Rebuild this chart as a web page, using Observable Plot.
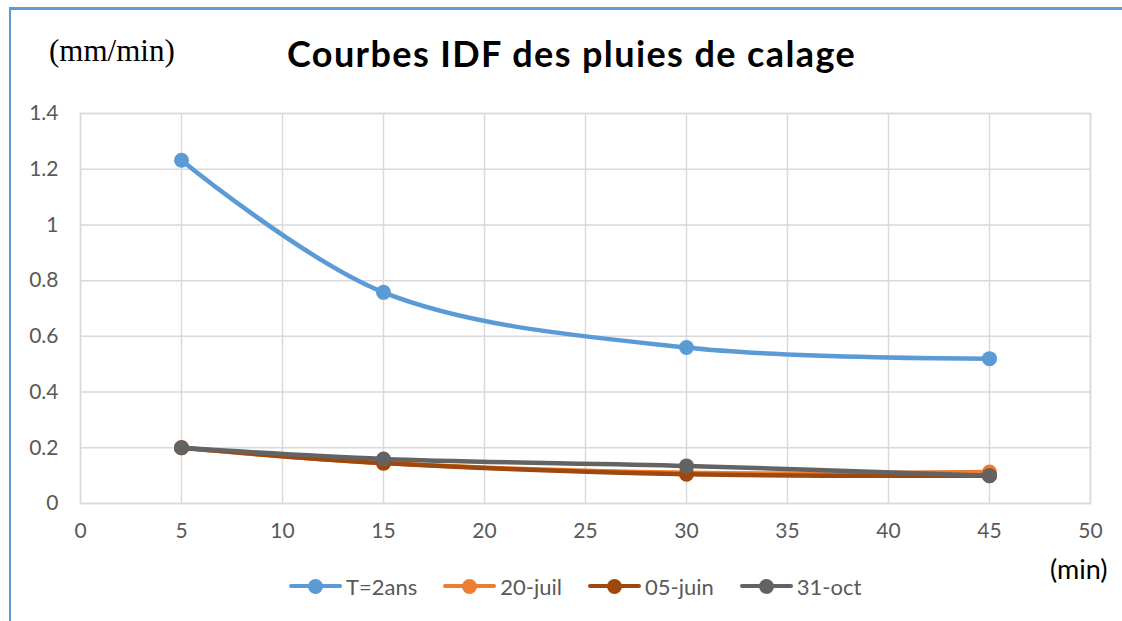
<!DOCTYPE html>
<html>
<head>
<meta charset="utf-8">
<script src="https://cdn.jsdelivr.net/npm/d3@7"></script>
<script src="https://cdn.jsdelivr.net/npm/@observablehq/plot@0.6"></script>
<style>
  html, body { margin: 0; padding: 0; background: #fff; }
  #wrap { position: relative; width: 1122px; height: 621px; overflow: hidden; background: #fff; }
  #box { position: absolute; left: 9px; top: 7px; width: 1200px; height: 700px;
         border-left: 2px solid #5B9BD5; border-top: 3px solid #5B9BD5; box-sizing: border-box; }
  #chart { position: absolute; left: 0; top: 0; }
  #chart svg text { font-size: 21px !important; }
  #unit { position: absolute; left: 49px; top: 33px; font-family: "Liberation Serif", serif; font-size: 31px; color: #000; }
  #title { position: absolute; left: 287px; top: 31px; font-family: Lato, "Open Sans", sans-serif; font-weight: bold; font-size: 36px; color: #000; letter-spacing: 1.4px; }
  #xunit { position: absolute; left: 1050px; top: 552px; font-family: Lato, "Open Sans", sans-serif; font-size: 27px; color: #000; }
  #legend { position: absolute; left: 289px; top: 572px; display: flex; gap: 26px;
            font-family: Lato, "Open Sans", sans-serif; font-size: 22px; color: #595959; }
  .item { display: flex; align-items: center; gap: 4px; }
  .sw { position: relative; width: 53px; height: 28px; }
  .sw .ln { position: absolute; left: 0; right: 0; top: 12px; height: 4px; border-radius: 2px; }
  .sw .dt { position: absolute; left: 19px; top: 7px; width: 15px; height: 15px; border-radius: 50%; }
</style>
</head>
<body>
<div id="wrap">
  <div id="box"></div>
  <div id="chart"></div>
  <div id="unit">(mm/min)</div>
  <div id="title">Courbes IDF des pluies de calage</div>
  <div id="xunit">(min)</div>
  <div id="legend"></div>
</div>
<script>
// Data
const durations = [5, 15, 30, 45];
const seriesNames = ["T=2ans", "20-juil", "05-juin", "31-oct"];
const t2ans  = [1.232, 0.758, 0.56, 0.52];
const juil20 = [0.2, 0.145, 0.11, 0.113];
const juin05 = [0.2, 0.145, 0.105, 0.1];
const oct31  = [0.2, 0.16, 0.135, 0.1];
const seriesColors = ["#5B9BD5", "#ED7D31", "#9E480E", "#636363"];
const xTicks = [0, 5, 10, 15, 20, 25, 30, 35, 40, 45, 50];
const yTicks = [0, 0.2, 0.4, 0.6, 0.8, 1, 1.2, 1.4];

const seriesValues = [t2ans, juil20, juin05, oct31];
const rows = [];
seriesNames.forEach((name, i) => {
  durations.forEach((d, j) => rows.push({ series: name, duree: d, intensite: seriesValues[i][j] }));
});

const colorScale = { domain: seriesNames, range: seriesColors };

const marks = [
  Plot.gridX(xTicks, { stroke: "#d9d9d9", strokeOpacity: 1, strokeWidth: 1.5 }),
  Plot.gridY(yTicks, { stroke: "#d9d9d9", strokeOpacity: 1, strokeWidth: 1.5 }),
  Plot.frame({ stroke: "#d9d9d9", strokeWidth: 1.5 }),
  Plot.axisX(xTicks, { tickSize: 0, tickPadding: 20, fontSize: 21, fill: "#595959", label: null }),
  Plot.axisY(yTicks, { tickSize: 0, tickPadding: 22, fontSize: 21, fill: "#595959", label: null,
                       tickFormat: d => String(+d.toFixed(1)) })
];
seriesNames.forEach(name => {
  const data = rows.filter(r => r.series === name);
  marks.push(Plot.line(data, { x: "duree", y: "intensite", stroke: "series", strokeWidth: 4.5, curve: "catmull-rom" }));
  marks.push(Plot.dot(data, { x: "duree", y: "intensite", fill: "series", r: 7.5 }));
});

const chart = Plot.plot({
  width: 1122,
  height: 621,
  marginLeft: 80,
  marginRight: 32,
  marginTop: 113,
  marginBottom: 118,
  x: { domain: [0, 50] },
  y: { domain: [0, 1.4] },
  color: colorScale,
  style: { fontFamily: "Lato, 'Open Sans', sans-serif", fontSize: "21px", color: "#595959", background: "transparent" },
  marks
});
document.getElementById("chart").appendChild(chart);

const legend = document.getElementById("legend");
seriesNames.forEach((name, i) => {
  const it = document.createElement("div");
  it.className = "item";
  it.innerHTML = `<div class="sw"><div class="ln" style="background:${seriesColors[i]}"></div><div class="dt" style="background:${seriesColors[i]}"></div></div><span>${name}</span>`;
  legend.appendChild(it);
});
</script>
</body>
</html>
